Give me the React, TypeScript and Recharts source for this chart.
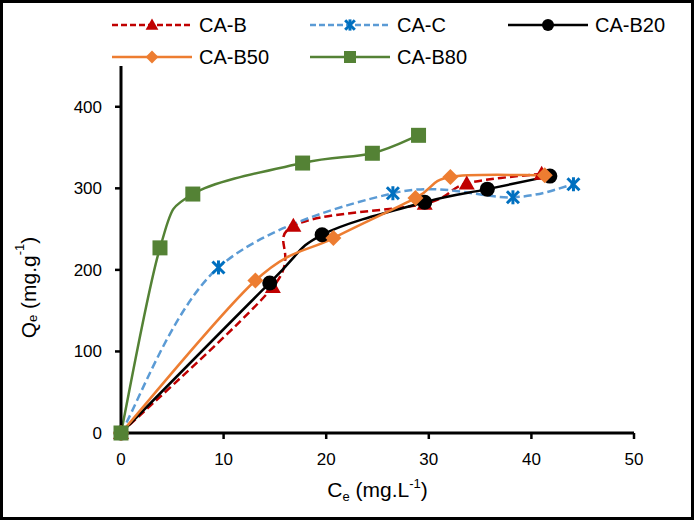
import { LineChart, Line, XAxis, YAxis, Legend, Label } from "recharts";

// values (Ce in mg/L, Qe in mg/g)
const caBX = [0, 14.8, 16.8, 29.6, 33.7, 41.0];
const caBY = [0, 179, 254, 281, 306, 318];
const caCX = [0, 9.5, 26.5, 38.2, 44.1];
const caCY = [0, 203, 294, 289, 305];
const caB20X = [0, 14.5, 19.6, 29.6, 35.7, 41.8];
const caB20Y = [0, 184, 243, 283, 299, 315];
const caB50X = [0, 13.1, 20.7, 28.7, 32.1, 41.3];
const caB50Y = [0, 187, 239, 288, 314, 316];
const caB80X = [0, 3.8, 7.0, 17.7, 24.5, 29.0];
const caB80Y = [0, 227, 293, 331, 343, 365];

const xTicks = [0, 10, 20, 30, 40, 50];
const yTicks = [0, 100, 200, 300, 400];

const FONT = '"Liberation Sans", Arial, sans-serif';
const RED = "#C00000";
const BLUE_LINE = "#5B9BD5";
const BLUE = "#0070C0";
const ORANGE = "#ED7D31";
const GREEN = "#548235";

const toPoints = (xs: number[], ys: number[]) =>
  xs.map((x, i) => ({ x, y: ys[i] }));

// Excel-like smoothed line (uniform Catmull-Rom as cubic beziers)
function smoothCurve(context: any) {
  let pts: [number, number][] = [];
  return {
    areaStart() {},
    areaEnd() {},
    lineStart() {
      pts = [];
    },
    lineEnd() {
      const n = pts.length;
      if (!n) return;
      context.moveTo(pts[0][0], pts[0][1]);
      for (let i = 0; i < n - 1; i++) {
        const p0 = pts[Math.max(i - 1, 0)];
        const p1 = pts[i];
        const p2 = pts[i + 1];
        const p3 = pts[Math.min(i + 2, n - 1)];
        context.bezierCurveTo(
          p1[0] + (p2[0] - p0[0]) / 6,
          p1[1] + (p2[1] - p0[1]) / 6,
          p2[0] - (p3[0] - p1[0]) / 6,
          p2[1] - (p3[1] - p1[1]) / 6,
          p2[0],
          p2[1]
        );
      }
    },
    point(x: number, y: number) {
      pts.push([x, y]);
    },
  };
}

type Mark = { cx: number; cy: number; s?: number };

const Triangle = ({ cx, cy, s = 1 }: Mark) => (
  <polygon
    points={`${cx},${cy - 8 * s} ${cx + 8 * s},${cy + 6 * s} ${cx - 8 * s},${cy + 6 * s}`}
    fill={RED}
  />
);
const Star = ({ cx, cy, s = 1 }: Mark) => (
  <g stroke={BLUE} strokeWidth={3}>
    <line x1={cx - 6 * s} y1={cy - 6 * s} x2={cx + 6 * s} y2={cy + 6 * s} />
    <line x1={cx - 6 * s} y1={cy + 6 * s} x2={cx + 6 * s} y2={cy - 6 * s} />
    <line x1={cx} y1={cy - 7 * s} x2={cx} y2={cy + 7 * s} />
  </g>
);
const Dot = ({ cx, cy, s = 1 }: Mark) => <circle cx={cx} cy={cy} r={7.5 * s} fill="#000" />;
const Diamond = ({ cx, cy, s = 1 }: Mark) => (
  <polygon
    points={`${cx},${cy - 8 * s} ${cx + 8 * s},${cy} ${cx},${cy + 8 * s} ${cx - 8 * s},${cy}`}
    fill={ORANGE}
  />
);
const Square = ({ cx, cy, s = 1 }: Mark) => (
  <rect x={cx - 7.5 * s} y={cy - 7.5 * s} width={15 * s} height={15 * s} fill={GREEN} />
);

const dotOf = (Shape: any) => (p: any) =>
  <Shape key={`d${p.index}`} cx={p.cx} cy={p.cy} />;

const legendRows = [
  [
    { name: "CA-B", color: RED, dash: "6 3", Shape: Triangle },
    { name: "CA-C", color: BLUE_LINE, dash: "6 3", Shape: Star },
    { name: "CA-B20", color: "#000", dash: undefined, Shape: Dot },
  ],
  [
    { name: "CA-B50", color: ORANGE, dash: undefined, Shape: Diamond },
    { name: "CA-B80", color: GREEN, dash: undefined, Shape: Square },
  ],
];

function LegendBox() {
  return (
    <svg width={694} height={75} style={{ display: "block" }}>
      {legendRows.map((row, r) =>
        row.map((it, c) => {
          const x0 = 112 + c * 198;
          const y = 25 + r * 32;
          return (
            <g key={it.name}>
              <line
                x1={x0}
                x2={x0 + 80}
                y1={y}
                y2={y}
                stroke={it.color}
                strokeWidth={2.5}
                strokeDasharray={it.dash}
              />
              <it.Shape cx={x0 + 40} cy={y} s={0.8} />
              <text x={x0 + 87} y={y + 7} fontSize={20} fontFamily={FONT} fill="#000">
                {it.name}
              </text>
            </g>
          );
        })
      )}
    </svg>
  );
}

const XTitle = (props: any) => {
  const { x, width } = props.viewBox;
  return (
    <text x={x + width / 2} y={497} textAnchor="middle" fontSize={21} fontFamily={FONT} fill="#000">
      C<tspan fontSize={13} dy={4}>e</tspan>
      <tspan dy={-4}> (mg.L</tspan>
      <tspan fontSize={13} dy={-9}>-1</tspan>
      <tspan dy={9}>)</tspan>
    </text>
  );
};

const YTitle = (props: any) => {
  const { y, height } = props.viewBox;
  const cy = y + height / 2 + 38;
  return (
    <text
      x={28}
      y={cy}
      transform={`rotate(-90 28 ${cy})`}
      textAnchor="middle"
      dominantBaseline="central"
      fontSize={21}
      fontFamily={FONT}
      fill="#000"
    >
      Q<tspan fontSize={13} dy={4}>e</tspan>
      <tspan dy={-4}> (mg.g</tspan>
      <tspan fontSize={13} dy={-9}>-1</tspan>
      <tspan dy={9}>)</tspan>
    </text>
  );
};

const tickStyle = { fontSize: 17, fill: "#000", fontFamily: FONT };

export default function App() {
  return (
    <div style={{ position: "absolute", left: 0, top: 0, width: 694, height: 520, background: "#fff" }}>
      <LineChart width={694} height={520} margin={{ top: 66, right: 60, left: 61, bottom: 57 }}>
        <XAxis
          type="number"
          dataKey="x"
          domain={[0, 50]}
          ticks={xTicks}
          height={30}
          tick={tickStyle}
          tickSize={6}
          tickMargin={14}
          axisLine={{ stroke: "#000", strokeWidth: 3 }}
          tickLine={{ stroke: "#000", strokeWidth: 2.5 }}
        >
          <Label content={XTitle} />
        </XAxis>
        <YAxis
          type="number"
          domain={[0, 450]}
          ticks={yTicks}
          width={60}
          tick={tickStyle}
          tickSize={6}
          tickMargin={13}
          axisLine={{ stroke: "#000", strokeWidth: 3 }}
          tickLine={{ stroke: "#000", strokeWidth: 2.5 }}
        >
          <Label content={YTitle} />
        </YAxis>
        <Legend
          layout="horizontal"
          verticalAlign="middle"
          align="center"
          wrapperStyle={{ position: "absolute", left: 0, top: 0, width: 694, height: 75 }}
          content={() => <LegendBox />}
        />
        <Line
          data={toPoints(caBX, caBY)}
          dataKey="y"
          name="CA-B"
          type={smoothCurve}
          stroke={RED}
          strokeWidth={2.5}
          strokeDasharray="8 4"
          dot={dotOf(Triangle)}
          isAnimationActive={false}
        />
        <Line
          data={toPoints(caCX, caCY)}
          dataKey="y"
          name="CA-C"
          type={smoothCurve}
          stroke={BLUE_LINE}
          strokeWidth={2.5}
          strokeDasharray="8 4"
          dot={dotOf(Star)}
          isAnimationActive={false}
        />
        <Line
          data={toPoints(caB20X, caB20Y)}
          dataKey="y"
          name="CA-B20"
          type={smoothCurve}
          stroke="#000"
          strokeWidth={2.5}
          dot={dotOf(Dot)}
          isAnimationActive={false}
        />
        <Line
          data={toPoints(caB50X, caB50Y)}
          dataKey="y"
          name="CA-B50"
          type={smoothCurve}
          stroke={ORANGE}
          strokeWidth={2.5}
          dot={dotOf(Diamond)}
          isAnimationActive={false}
        />
        <Line
          data={toPoints(caB80X, caB80Y)}
          dataKey="y"
          name="CA-B80"
          type={smoothCurve}
          stroke={GREEN}
          strokeWidth={2.5}
          dot={dotOf(Square)}
          isAnimationActive={false}
        />
      </LineChart>
      <div
        style={{
          position: "absolute",
          left: 0,
          top: 0,
          width: 694,
          height: 520,
          border: "3px solid #000",
          boxSizing: "border-box",
          pointerEvents: "none",
        }}
      />
    </div>
  );
}
